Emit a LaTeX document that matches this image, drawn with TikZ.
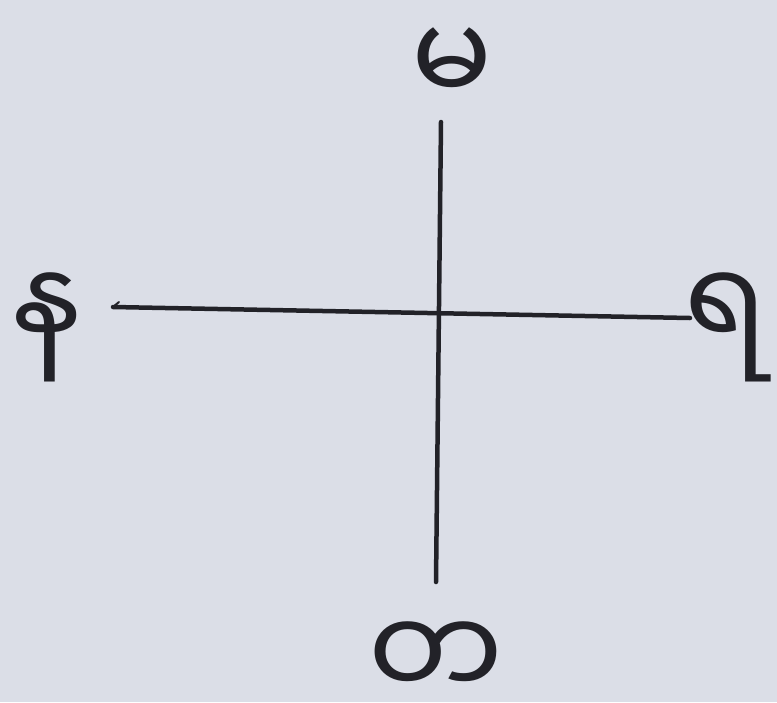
\documentclass[tikz,border=0pt]{standalone}
\usepackage{fontspec}
\newfontfamily\fbur[Script=Myanmar]{Noto Sans Myanmar UI}
\definecolor{paper}{RGB}{219,222,231}
\definecolor{ink}{RGB}{34,34,40}
\tikzset{
  lbl/.style={inner sep=0pt, text=ink, font=\fbur\fontsize{120}{120}\selectfont},
  axis/.style={draw=ink, line width=4.5pt, line cap=round}
}
\begin{document}
\begin{tikzpicture}[x=1pt,y=-1pt]
\fill[paper] (0,0) rectangle (777,702);
\useasboundingbox (0,0) rectangle (777,702);
\coordinate (ntop) at (441,122);
\coordinate (sbot) at (436,582);
\coordinate (wend) at (113,307);
\coordinate (eend) at (690,318);
\draw[axis] (ntop) -- (sbot);
\draw[axis] (wend) -- (eend);
\draw[draw=ink, line width=2pt, line cap=round] (wend) -- ++(6,-5);
\node[lbl] (north) at (452,66) {မ};
\node[lbl] (south) at (436,660) {တ};
\node[lbl] (west) at (47,327) {န};
\node[lbl] (east) at (726,327) {ရ};
\end{tikzpicture}
\end{document}
